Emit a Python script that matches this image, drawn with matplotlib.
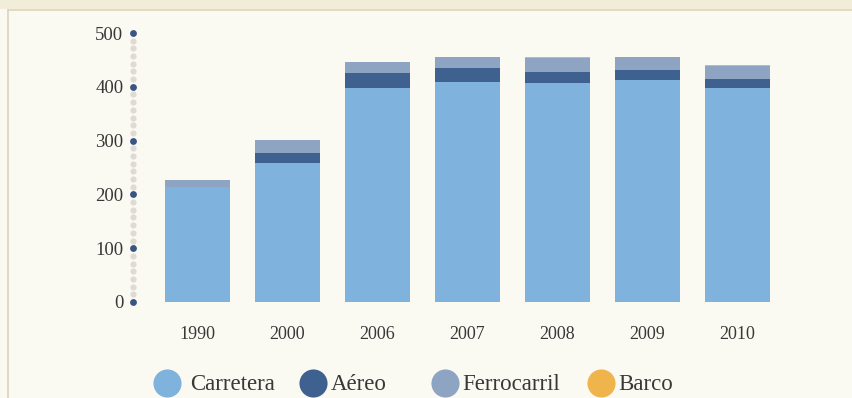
import numpy as np
import matplotlib
matplotlib.use("Agg")
import matplotlib.pyplot as plt
from matplotlib.patches import Rectangle

# freight by mode, stacked
years = ["1990", "2000", "2006", "2007", "2008", "2009", "2010"]
carretera = [214, 258, 398, 409, 407, 413, 398]
aereo = [0, 19, 28, 26, 20, 19, 17]
ferrocarril = [13, 24, 20, 20, 27, 23, 24]
barco = [0, 0, 1, 1, 1, 1, 1]
yticks = [0, 100, 200, 300, 400, 500]
modes = ["Carretera", "Aéreo", "Ferrocarril", "Barco"]

C_CAR, C_AER, C_FER, C_BAR = "#7fb2dd", "#3f6190", "#8ea4c3", "#f0b44c"
BG = "#fbfaf2"
TXT = "#383838"
FONT = "Liberation Serif"

W, H = 853, 398
fig = plt.figure(figsize=(W / 100, H / 100), dpi=100, facecolor=BG)

# page frame
over = fig.add_axes([0, 0, 1, 1], zorder=-1)
over.set_xlim(0, W); over.set_ylim(H, 0); over.axis("off")
over.add_patch(Rectangle((0, 0), W, 9, color="#f2edd8", lw=0))
over.plot([8, W], [10, 10], color="#ddd5bb", lw=1.2)
over.plot([8, 8], [10, H], color="#ddd5bb", lw=1.2)

# axes: x=133 px is the dotted axis, y 302 px -> 0, 33 px -> 500
ax = fig.add_axes([133 / W, (H - 302) / H, 667 / W, 269 / H])
ax.set_facecolor("none")
x = np.arange(len(years))
bw = 0.72
b1 = np.array(carretera)
b2 = b1 + np.array(aereo)
b3 = b2 + np.array(ferrocarril)
ax.bar(x, carretera, bw, color=C_CAR, lw=0)
ax.bar(x, aereo, bw, bottom=b1, color=C_AER, lw=0)
ax.bar(x, ferrocarril, bw, bottom=b2, color=C_FER, lw=0)
ax.bar(x, barco, bw, bottom=b3, color=C_BAR, lw=0)
ax.set_xlim(-0.717, 6.694)
ax.set_ylim(0, 500)

# dotted value axis: small grey dots, dark dots on the ticks
ytr = ax.get_yaxis_transform()
minor = np.arange(0, 500.01, 100 / 7)
ax.scatter(np.zeros_like(minor), minor, s=20, color="#e0dad4", transform=ytr,
           clip_on=False, lw=0, zorder=3)
ax.scatter(np.zeros(len(yticks)), yticks, s=24, color="#3a5484", transform=ytr,
           clip_on=False, lw=0, zorder=4)

ax.set_yticks(yticks)
ax.set_yticklabels([str(v) for v in yticks], fontsize=13.5, color=TXT, family=FONT)
ax.set_xticks(x)
ax.set_xticklabels(years, fontsize=13, color=TXT, family=FONT)
ax.tick_params(axis="y", length=0, pad=7)
ax.tick_params(axis="x", length=0, pad=17)
for s in ax.spines.values():
    s.set_visible(False)

# legend row
leg = [(167, 190), (313, 331), (445, 462), (601, 618)]
for (cx, tx), lab, col in zip(leg, modes, [C_CAR, C_AER, C_FER, C_BAR]):
    over.scatter([cx], [383], s=410, color=col, lw=0, zorder=3)
    over.text(tx, 384, lab, fontsize=16.5, color=TXT, family=FONT,
              va="center", ha="left")

fig.savefig("out.png", dpi=100, facecolor=BG)
